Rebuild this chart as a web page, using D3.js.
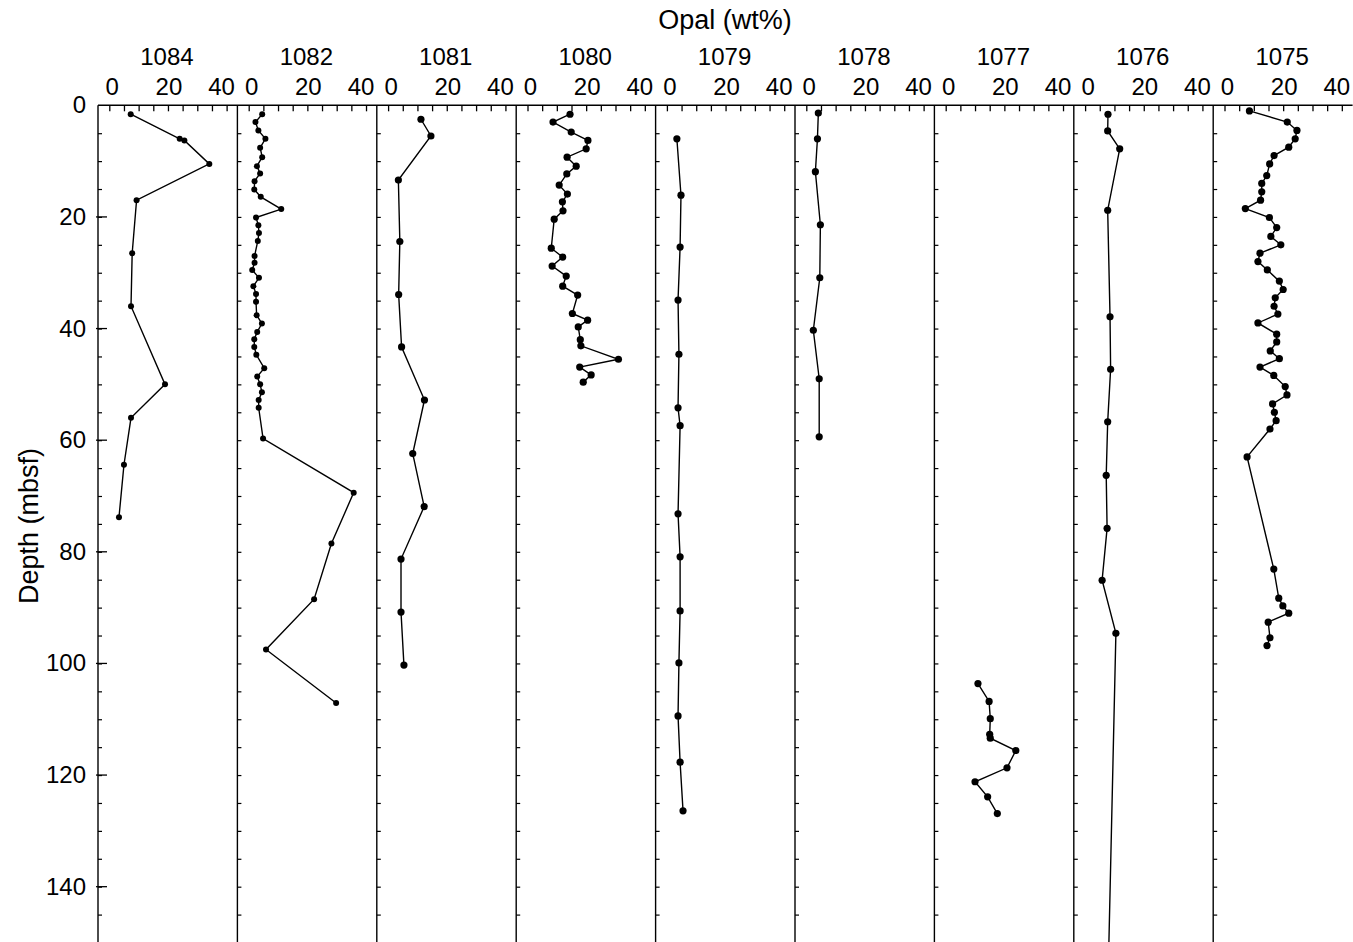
<!DOCTYPE html>
<html>
<head>
<meta charset="utf-8">
<script src="https://cdn.jsdelivr.net/npm/d3@7/dist/d3.min.js"></script>
<style>
  html, body { margin: 0; padding: 0; background: #fff; }
  svg { display: block; }
  text { font-family: "Liberation Sans", Arial, Helvetica, sans-serif; fill: #000; }
</style>
</head>
<body>
<svg id="chart" width="1353" height="942"></svg>
<script>
// ---------------- data ----------------
const sites = ["1084", "1082", "1081", "1080", "1079", "1078", "1077", "1076", "1075"];
const xTickValues = [0, 5, 10, 15, 20, 25, 30, 35, 40];
const xTickLabels = [0, 20, 40];
const yTickLabels = [0, 20, 40, 60, 80, 100, 120, 140];

const depth1084 = [1.6, 6.0, 6.3, 10.5, 17.0, 26.5, 36.0, 50.0, 56.0, 64.4, 73.8];
const opal1084  = [7.3, 24.0, 25.6, 34.1, 9.3, 7.8, 7.4, 19.0, 7.4, 5.0, 3.3];

const depth1082 = [1.6, 3.0, 4.5, 6.0, 7.6, 9.3, 10.9, 12.2, 13.6, 15.1, 16.4, 18.6, 20.1, 21.5, 22.9, 24.3, 27.0, 28.2, 29.5, 30.9, 32.4, 33.8, 35.2, 37.6, 39.1, 40.6, 41.9, 43.3, 44.7, 47.1, 48.6, 50.0, 51.4, 52.8, 54.2, 59.7, 69.4, 78.5, 88.5, 97.5, 107.1];
const opal1082  = [4.6, 2.3, 3.3, 5.7, 3.9, 4.6, 2.8, 3.9, 2.0, 1.9, 4.1, 11.1, 2.5, 3.3, 3.5, 3.1, 2.0, 2.0, 1.2, 3.5, 1.6, 2.5, 2.5, 2.7, 4.5, 2.9, 1.9, 1.9, 2.6, 5.3, 2.9, 3.9, 4.5, 3.4, 3.4, 4.9, 35.8, 28.2, 22.3, 5.9, 29.8];

const depth1081 = [2.5, 5.5, 13.4, 24.4, 33.9, 43.3, 52.8, 62.4, 71.9, 81.3, 90.8, 100.3];
const opal1081  = [11.2, 14.6, 3.5, 4.0, 3.6, 4.6, 12.4, 8.4, 12.3, 4.4, 4.4, 5.4];

const depth1080 = [1.6, 3.0, 4.8, 6.3, 7.8, 9.3, 10.9, 12.3, 14.3, 15.9, 17.3, 18.9, 20.4, 25.6, 27.2, 28.8, 30.6, 32.4, 34.0, 37.3, 38.5, 39.7, 42.0, 43.1, 45.5, 46.9, 48.3, 49.6];
const opal1080  = [14.5, 8.7, 14.9, 20.6, 20.0, 13.5, 16.6, 13.4, 10.8, 13.6, 11.9, 12.1, 9.1, 8.1, 12.0, 8.4, 13.2, 12.0, 17.1, 15.3, 20.5, 17.3, 18.0, 18.2, 31.0, 17.8, 21.7, 19.0];

const depth1079 = [6.0, 16.1, 25.4, 34.9, 44.6, 54.2, 57.4, 73.2, 80.9, 90.6, 99.9, 109.4, 117.7, 126.4];
const opal1079  = [3.4, 4.8, 4.5, 3.8, 4.1, 3.8, 4.5, 3.8, 4.5, 4.5, 4.1, 3.8, 4.5, 5.5];

const depth1078 = [1.4, 6.0, 11.9, 21.4, 30.9, 40.3, 49.0, 59.4];
const opal1078  = [4.1, 3.8, 3.1, 4.8, 4.6, 2.4, 4.4, 4.4];

const depth1077 = [103.6, 106.8, 109.9, 112.7, 113.4, 115.6, 118.7, 121.2, 123.9, 126.9];
const opal1077  = [11.0, 14.8, 15.2, 15.0, 15.2, 23.9, 20.9, 10.0, 14.3, 17.6];

const depth1076 = [1.6, 4.6, 7.8, 18.8, 37.9, 47.3, 56.7, 66.3, 75.8, 85.1, 94.6, 155.0];
const opal1076  = [7.8, 7.7, 11.8, 7.7, 8.5, 8.7, 7.7, 7.2, 7.5, 5.8, 10.5, 7.9];

const depth1075 = [1.0, 3.0, 4.5, 6.0, 7.5, 9.0, 10.5, 12.6, 14.0, 15.5, 17.0, 18.5, 20.1, 21.9, 23.5, 25.0, 26.5, 28.0, 29.5, 31.5, 33.0, 34.5, 36.0, 37.4, 39.0, 41.0, 42.4, 44.0, 45.4, 46.9, 48.4, 50.4, 51.9, 53.5, 55.0, 56.5, 58.0, 63.0, 83.1, 88.3, 89.7, 91.0, 92.6, 95.4, 96.8];
const opal1075  = [8.5, 21.4, 24.7, 24.1, 21.9, 16.9, 15.4, 14.4, 12.7, 12.7, 12.3, 7.1, 15.3, 17.8, 15.8, 19.2, 12.1, 11.4, 14.6, 18.7, 20.0, 17.3, 16.9, 18.2, 11.4, 17.8, 17.8, 15.6, 18.7, 12.1, 16.8, 20.7, 21.3, 16.4, 17.0, 17.6, 15.5, 7.7, 16.8, 18.5, 19.9, 21.9, 14.9, 15.5, 14.5];

const siteData = {
  "1084": [depth1084, opal1084], "1082": [depth1082, opal1082], "1081": [depth1081, opal1081],
  "1080": [depth1080, opal1080], "1079": [depth1079, opal1079], "1078": [depth1078, opal1078],
  "1077": [depth1077, opal1077], "1076": [depth1076, opal1076], "1075": [depth1075, opal1075]
};

// ---------------- layout ----------------
const svg = d3.select("#chart");
const plotLeft = 98, plotTop = 105.3, plotBottom = 942.5;
const panelW = 139.4;
const xDomain = [-3.853, 43.675];
const yScale = d3.scaleLinear().domain([0, 150]).range([plotTop, plotBottom]);
const fs = 24, fsTitle = 27;

svg.append("defs").append("clipPath").attr("id", "plotclip")
  .append("rect").attr("x", plotLeft).attr("y", plotTop - 10)
  .attr("width", panelW * 9 + 10).attr("height", plotBottom - plotTop + 10);

// Top title
svg.append("text").attr("x", 725).attr("y", 29).attr("text-anchor", "middle")
  .style("font-size", fsTitle + "px").text("Opal (wt%)");

// Y title
svg.append("text").attr("transform", "translate(38,526) rotate(-90)").attr("text-anchor", "middle")
  .style("font-size", fsTitle + "px").text("Depth (mbsf)");

sites.forEach((site, i) => {
  const P = plotLeft + i * panelW;
  const x = d3.scaleLinear().domain(xDomain).range([P, P + panelW]);
  const g = svg.append("g");

  // site label
  g.append("text").attr("x", x(20) - 1).attr("y", 65).attr("text-anchor", "middle")
    .style("font-size", fs + "px").text(site);

  // top axis with inward ticks
  const ax = d3.axisTop(x).tickValues(xTickValues).tickSizeInner(-6).tickSizeOuter(0).tickFormat("");
  const axg = g.append("g").attr("transform", `translate(0,${plotTop})`).call(ax);
  axg.select(".domain").remove();
  axg.selectAll("line").attr("stroke", "#000").attr("stroke-width", 1.3);

  // x tick labels
  const labelShift = {0: 3, 20: 1, 40: -5};
  g.selectAll(".xl").data(xTickLabels).enter().append("text")
    .attr("x", d => x(d) + labelShift[d]).attr("y", 95).attr("text-anchor", "middle")
    .style("font-size", fs + "px").text(d => d);

  // left axis line of the panel with inward ticks
  const ay = d3.axisLeft(yScale).tickValues(d3.range(5, 150, 5)).tickSizeInner(-4).tickSizeOuter(0).tickFormat("");
  const ayg = g.append("g").attr("transform", `translate(${P},0)`).call(ay);
  ayg.select(".domain").remove();
  ayg.selectAll("line").attr("stroke", "#000").attr("stroke-width", 1.2);
  g.append("line").attr("x1", P).attr("x2", P).attr("y1", plotTop).attr("y2", plotBottom)
    .attr("stroke", "#000").attr("stroke-width", 1.4);

  if (i === 0) {
    g.selectAll(".maj").data(yTickLabels.filter(d => d > 0)).enter().append("line")
      .attr("x1", P - 2).attr("x2", P + 9).attr("y1", d => yScale(d)).attr("y2", d => yScale(d))
      .attr("stroke", "#000").attr("stroke-width", 1.3);
    g.selectAll(".yl").data(yTickLabels).enter().append("text")
      .attr("x", P - 12).attr("y", d => yScale(d) + 8).attr("text-anchor", "end")
      .style("font-size", fs + "px").text(d => d);
  }

  // data
  const [depths, opals] = siteData[site];
  const pts = depths.map((d, k) => ({d: d, v: opals[k]}));
  const line = d3.line().x(p => x(p.v)).y(p => yScale(p.d));
  const small = (site === "1084" || site === "1082");
  const dg = g.append("g").attr("clip-path", "url(#plotclip)");
  dg.append("path").datum(pts).attr("d", line).attr("fill", "none")
    .attr("stroke", "#000").attr("stroke-width", 1.4);
  dg.selectAll("circle").data(pts.filter(p => p.d <= 150)).enter().append("circle")
    .attr("cx", p => x(p.v)).attr("cy", p => yScale(p.d)).attr("r", small ? 3.0 : 3.6).attr("fill", "#000");
});

// top border
svg.append("line").attr("x1", plotLeft).attr("x2", plotLeft + panelW * 9).attr("y1", plotTop).attr("y2", plotTop)
  .attr("stroke", "#000").attr("stroke-width", 1.4);
</script>
</body>
</html>
